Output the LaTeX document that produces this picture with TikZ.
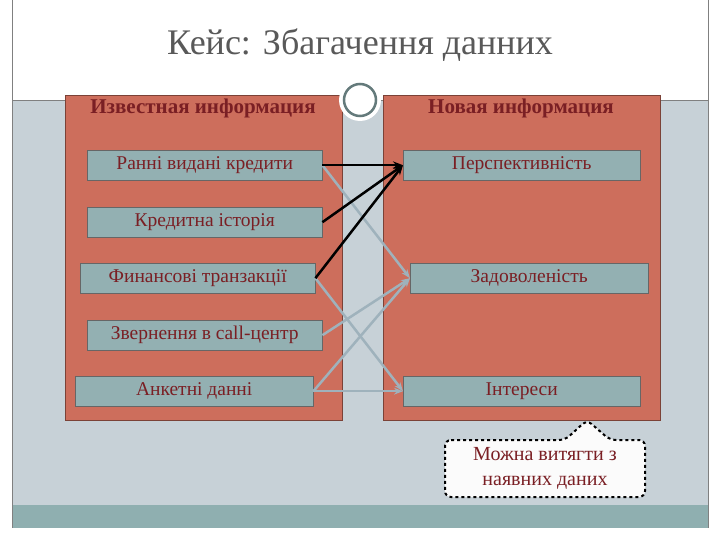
\documentclass[tikz,border=0pt]{standalone}
\usepackage{fontspec}
\setmainfont{Liberation Serif}
\usetikzlibrary{arrows.meta}
\definecolor{bgb}{HTML}{C7D1D7}
\definecolor{teal}{HTML}{8FAFB0}
\definecolor{panel}{HTML}{CD6E5C}
\definecolor{boxc}{HTML}{93B0B2}
\definecolor{txt}{HTML}{7A1F24}
\definecolor{lgrey}{HTML}{9FB2BC}
\begin{document}
\begin{tikzpicture}[x=1pt,y=-1pt,
 panelbox/.style={draw=panel!60!black,fill=panel,minimum width=277pt,minimum height=325pt,anchor=north west},
 itembox/.style={draw=black!60,fill=boxc,minimum width=235pt,minimum height=30pt,inner sep=0pt,anchor=north west,text=txt,font=\fontsize{19.5}{21}\selectfont},
 head/.style={text=txt,font=\bfseries\fontsize{21}{23}\selectfont},
 blk/.style={draw=black,line width=2.5pt,-{Stealth[length=10pt]}},
 gry/.style={draw=lgrey,line width=2.5pt,-{Stealth[length=9pt,open]}}]
\useasboundingbox (0,0) rectangle (720,540);
\fill[white] (0,0) rectangle (720,540);
\fill[bgb] (12,100) rectangle (708,505);
\fill[teal] (12,505) rectangle (708,528);
\draw[gray] (12,0) -- (12,528) (708,0)--(708,528);
\draw[gray] (12,100) -- (708,100);
\node[text=black!65,font=\fontsize{36}{40}\selectfont] (title) at (360,45) {Кейс: Збагачення данних};
\node[panelbox] (L) at (65,95) {};
\node[panelbox] (R) at (383,95) {};
\fill[white] (360,100) circle (21);
\draw[teal!70!black,line width=2.5pt] (360,100) circle (16);
\node[head] (hl) at (203,108) {Известная информация};
\node[head] (hr) at (521,108) {Новая информация};
\node[itembox] (a1) at (87,150) {Ранні видані кредити};
\node[itembox] (a2) at (87,207) {Кредитна історія};
\node[itembox] (a3) at (80,263) {Финансові транзакції};
\node[itembox] (a4) at (87,320) {Звернення в call-центр};
\node[itembox,minimum width=238pt] (a5) at (75,376) {Анкетні данні};
\node[itembox,minimum width=237pt] (b1) at (403,150) {Перспективність};
\node[itembox,minimum width=238pt] (b2) at (410,263) {Задоволеність};
\node[itembox,minimum width=237pt] (b3) at (403,376) {Інтереси};
\draw[gry] (a1.east) -- (b2.west);
\draw[gry] (a3.east) -- (b3.west);
\draw[gry] (a4.east) -- (b2.west);
\draw[gry] (a5.east) -- (b2.west);
\draw[gry] (a5.east) -- (b3.west);
\draw[blk] (a1.east) -- (b1.west);
\draw[blk] (a2.east) -- (b1.west);
\draw[blk] (a3.east) -- (b1.west);
\draw[dashed,line width=2pt,fill=white!97!gray,rounded corners=6pt] (445,440) -- (565,440) -- (587,420) -- (610,440) -- (645,440) -- (645,497) -- (445,497) -- cycle;
\node[text=txt,align=center,font=\fontsize{20}{25}\selectfont] (c) at (545,468) {Можна витягти з\\наявних даних};
\end{tikzpicture}
\end{document}
